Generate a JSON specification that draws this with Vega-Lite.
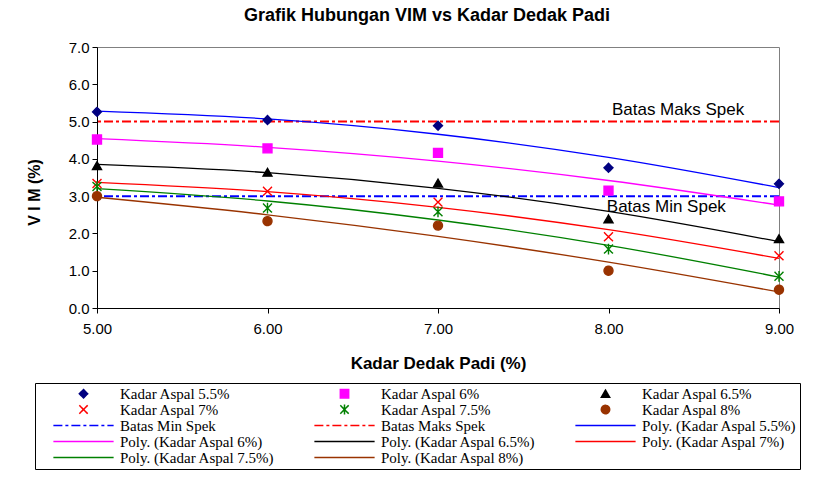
{
  "$schema": "https://vega.github.io/schema/vega-lite/v6.json",
  "width": 682,
  "height": 261,
  "autosize": {"type": "none"},
  "padding": {"left": 97, "top": 47, "right": 41, "bottom": 172},
  "background": "white",
  "title": {
    "text": "Grafik Hubungan VIM vs Kadar Dedak Padi",
    "font": "Liberation Sans",
    "fontSize": 18,
    "fontWeight": "bold",
    "color": "black",
    "anchor": "middle",
    "dx": -11,
    "offset": 15
  },
  "datasets": {
    "points": [
      {"series": "Kadar Aspal 5.5%", "dedak": 5, "vim": 5.26},
      {"series": "Kadar Aspal 5.5%", "dedak": 6, "vim": 5.04},
      {"series": "Kadar Aspal 5.5%", "dedak": 7, "vim": 4.89},
      {"series": "Kadar Aspal 5.5%", "dedak": 8, "vim": 3.76},
      {"series": "Kadar Aspal 5.5%", "dedak": 9, "vim": 3.33},
      {"series": "Kadar Aspal 6%", "dedak": 5, "vim": 4.52},
      {"series": "Kadar Aspal 6%", "dedak": 6, "vim": 4.28},
      {"series": "Kadar Aspal 6%", "dedak": 7, "vim": 4.16},
      {"series": "Kadar Aspal 6%", "dedak": 8, "vim": 3.15},
      {"series": "Kadar Aspal 6%", "dedak": 9, "vim": 2.86},
      {"series": "Kadar Aspal 6.5%", "dedak": 5, "vim": 3.82},
      {"series": "Kadar Aspal 6.5%", "dedak": 6, "vim": 3.64},
      {"series": "Kadar Aspal 6.5%", "dedak": 7, "vim": 3.35},
      {"series": "Kadar Aspal 6.5%", "dedak": 8, "vim": 2.39},
      {"series": "Kadar Aspal 6.5%", "dedak": 9, "vim": 1.86},
      {"series": "Kadar Aspal 7%", "dedak": 5, "vim": 3.34},
      {"series": "Kadar Aspal 7%", "dedak": 6, "vim": 3.13},
      {"series": "Kadar Aspal 7%", "dedak": 7, "vim": 2.84},
      {"series": "Kadar Aspal 7%", "dedak": 8, "vim": 1.91},
      {"series": "Kadar Aspal 7%", "dedak": 9, "vim": 1.40},
      {"series": "Kadar Aspal 7.5%", "dedak": 5, "vim": 3.26},
      {"series": "Kadar Aspal 7.5%", "dedak": 6, "vim": 2.68},
      {"series": "Kadar Aspal 7.5%", "dedak": 7, "vim": 2.58},
      {"series": "Kadar Aspal 7.5%", "dedak": 8, "vim": 1.58},
      {"series": "Kadar Aspal 7.5%", "dedak": 9, "vim": 0.85},
      {"series": "Kadar Aspal 8%", "dedak": 5, "vim": 3.00},
      {"series": "Kadar Aspal 8%", "dedak": 6, "vim": 2.33},
      {"series": "Kadar Aspal 8%", "dedak": 7, "vim": 2.21},
      {"series": "Kadar Aspal 8%", "dedak": 8, "vim": 1.00},
      {"series": "Kadar Aspal 8%", "dedak": 9, "vim": 0.49}
    ],
    "trend": [
      {"series": "Poly. (Kadar Aspal 5.5%)", "dedak": 5, "vim": 5.28},
      {"series": "Poly. (Kadar Aspal 5.5%)", "dedak": 6, "vim": 5.07},
      {"series": "Poly. (Kadar Aspal 5.5%)", "dedak": 7, "vim": 4.66},
      {"series": "Poly. (Kadar Aspal 5.5%)", "dedak": 8, "vim": 4.04},
      {"series": "Poly. (Kadar Aspal 5.5%)", "dedak": 9, "vim": 3.23},
      {"series": "Poly. (Kadar Aspal 6%)", "dedak": 5, "vim": 4.54},
      {"series": "Poly. (Kadar Aspal 6%)", "dedak": 6, "vim": 4.31},
      {"series": "Poly. (Kadar Aspal 6%)", "dedak": 7, "vim": 3.94},
      {"series": "Poly. (Kadar Aspal 6%)", "dedak": 8, "vim": 3.42},
      {"series": "Poly. (Kadar Aspal 6%)", "dedak": 9, "vim": 2.76},
      {"series": "Poly. (Kadar Aspal 6.5%)", "dedak": 5, "vim": 3.85},
      {"series": "Poly. (Kadar Aspal 6.5%)", "dedak": 6, "vim": 3.63},
      {"series": "Poly. (Kadar Aspal 6.5%)", "dedak": 7, "vim": 3.21},
      {"series": "Poly. (Kadar Aspal 6.5%)", "dedak": 8, "vim": 2.59},
      {"series": "Poly. (Kadar Aspal 6.5%)", "dedak": 9, "vim": 1.78},
      {"series": "Poly. (Kadar Aspal 7%)", "dedak": 5, "vim": 3.37},
      {"series": "Poly. (Kadar Aspal 7%)", "dedak": 6, "vim": 3.12},
      {"series": "Poly. (Kadar Aspal 7%)", "dedak": 7, "vim": 2.70},
      {"series": "Poly. (Kadar Aspal 7%)", "dedak": 8, "vim": 2.10},
      {"series": "Poly. (Kadar Aspal 7%)", "dedak": 9, "vim": 1.33},
      {"series": "Poly. (Kadar Aspal 7.5%)", "dedak": 5, "vim": 3.20},
      {"series": "Poly. (Kadar Aspal 7.5%)", "dedak": 6, "vim": 2.87},
      {"series": "Poly. (Kadar Aspal 7.5%)", "dedak": 7, "vim": 2.36},
      {"series": "Poly. (Kadar Aspal 7.5%)", "dedak": 8, "vim": 1.68},
      {"series": "Poly. (Kadar Aspal 7.5%)", "dedak": 9, "vim": 0.83},
      {"series": "Poly. (Kadar Aspal 8%)", "dedak": 5, "vim": 2.97},
      {"series": "Poly. (Kadar Aspal 8%)", "dedak": 6, "vim": 2.50},
      {"series": "Poly. (Kadar Aspal 8%)", "dedak": 7, "vim": 1.92},
      {"series": "Poly. (Kadar Aspal 8%)", "dedak": 8, "vim": 1.23},
      {"series": "Poly. (Kadar Aspal 8%)", "dedak": 9, "vim": 0.43}
    ],
    "batas": [
      {"series": "Batas Maks Spek", "vim": 5.0},
      {"series": "Batas Min Spek", "vim": 3.0}
    ],
    "notes": [
      {"label": "Batas Maks Spek", "dedak": 8.02, "vim": 5.31},
      {"label": "Batas Min Spek", "dedak": 7.99, "vim": 2.71}
    ]
  },
  "encoding": {
    "y": {
      "field": "vim",
      "type": "quantitative",
      "scale": {"domain": [0, 7], "nice": false},
      "axis": {
        "values": [0, 1, 2, 3, 4, 5, 6, 7],
        "format": ".1f",
        "title": "V I M (%)",
        "titleFontSize": 16,
        "labelPadding": 3,
        "labelFlush": false,
        "labelOverlap": false,
        "titlePadding": 26,
        "titleY": 145
      }
    }
  },
  "layer": [
    {
      "data": {"name": "batas"},
      "mark": {"type": "rule", "strokeWidth": 2},
      "encoding": {
        "color": {
          "field": "series",
          "type": "nominal",
          "scale": {
            "domain": ["Kadar Aspal 5.5%", "Kadar Aspal 6%", "Kadar Aspal 6.5%", "Kadar Aspal 7%", "Kadar Aspal 7.5%", "Kadar Aspal 8%", "Batas Min Spek", "Batas Maks Spek", "Poly. (Kadar Aspal 5.5%)", "Poly. (Kadar Aspal 6%)", "Poly. (Kadar Aspal 6.5%)", "Poly. (Kadar Aspal 7%)", "Poly. (Kadar Aspal 7.5%)", "Poly. (Kadar Aspal 8%)"],
            "range": ["#000080", "#FF00FF", "#000000", "#FF0000", "#008000", "#993300", "#0000FF", "#FF0000", "#0000FF", "#FF00FF", "#000000", "#FF0000", "#008000", "#993300"]
          },
          "legend": {
            "title": null,
            "orient": "none",
            "legendX": -62,
            "legendY": 336,
            "direction": "horizontal",
            "columns": 3,
            "gridAlign": "all",
            "symbolSize": 70,
            "symbolStrokeWidth": 1.5,
            "symbolOffset": 38,
            "labelOffset": 29,
            "labelFont": "Liberation Serif",
            "labelFontSize": 15,
            "labelColor": "black",
            "labelLimit": 300,
            "columnPadding": 24,
            "rowPadding": -3,
            "padding": 3,
            "strokeColor": "black",
            "fillColor": "white"
          }
        },
        "strokeDash": {
          "field": "series",
          "type": "nominal",
          "scale": {
            "domain": ["Kadar Aspal 5.5%", "Kadar Aspal 6%", "Kadar Aspal 6.5%", "Kadar Aspal 7%", "Kadar Aspal 7.5%", "Kadar Aspal 8%", "Batas Min Spek", "Batas Maks Spek", "Poly. (Kadar Aspal 5.5%)", "Poly. (Kadar Aspal 6%)", "Poly. (Kadar Aspal 6.5%)", "Poly. (Kadar Aspal 7%)", "Poly. (Kadar Aspal 7.5%)", "Poly. (Kadar Aspal 8%)"],
            "range": [[1, 0], [1, 0], [1, 0], [1, 0], [1, 0], [1, 0], [9, 3, 3, 3], [9, 3, 3, 3], [1, 0], [1, 0], [1, 0], [1, 0], [1, 0], [1, 0]]
          }
        }
      }
    },
    {
      "data": {"name": "trend"},
      "mark": {"type": "line", "interpolate": "monotone", "strokeWidth": 1.3},
      "encoding": {
        "x": {
          "field": "dedak",
          "type": "quantitative",
          "scale": {"domain": [5, 9], "nice": false, "zero": false},
          "axis": {
            "values": [5, 6, 7, 8, 9],
            "format": ".2f",
            "title": "Kadar Dedak Padi (%)",
            "labelPadding": 8,
            "labelFlush": false,
            "labelOverlap": false,
            "titlePadding": 19
          }
        },
        "color": {"field": "series", "type": "nominal"}
      }
    },
    {
      "data": {"name": "points"},
      "mark": {"type": "point", "filled": true, "size": 80, "strokeWidth": 1.4, "opacity": 1},
      "encoding": {
        "x": {"field": "dedak", "type": "quantitative"},
        "fill": {
          "field": "series",
          "type": "nominal",
          "scale": {
            "domain": ["Kadar Aspal 5.5%", "Kadar Aspal 6%", "Kadar Aspal 6.5%", "Kadar Aspal 7%", "Kadar Aspal 7.5%", "Kadar Aspal 8%", "Batas Min Spek", "Batas Maks Spek", "Poly. (Kadar Aspal 5.5%)", "Poly. (Kadar Aspal 6%)", "Poly. (Kadar Aspal 6.5%)", "Poly. (Kadar Aspal 7%)", "Poly. (Kadar Aspal 7.5%)", "Poly. (Kadar Aspal 8%)"],
            "range": ["#000080", "#FF00FF", "#000000", "#FF0000", "#008000", "#993300", "#0000FF", "#FF0000", "#0000FF", "#FF00FF", "#000000", "#FF0000", "#008000", "#993300"]
          }
        },
        "stroke": {
          "field": "series",
          "type": "nominal",
          "scale": {
            "domain": ["Kadar Aspal 5.5%", "Kadar Aspal 6%", "Kadar Aspal 6.5%", "Kadar Aspal 7%", "Kadar Aspal 7.5%", "Kadar Aspal 8%", "Batas Min Spek", "Batas Maks Spek", "Poly. (Kadar Aspal 5.5%)", "Poly. (Kadar Aspal 6%)", "Poly. (Kadar Aspal 6.5%)", "Poly. (Kadar Aspal 7%)", "Poly. (Kadar Aspal 7.5%)", "Poly. (Kadar Aspal 8%)"],
            "range": ["#000080", "#FF00FF", "#000000", "#FF0000", "#008000", "#993300", "#0000FF", "#FF0000", "#0000FF", "#FF00FF", "#000000", "#FF0000", "#008000", "#993300"]
          }
        },
        "strokeDash": {"field": "series", "type": "nominal"},
        "shape": {
          "field": "series",
          "type": "nominal",
          "scale": {
            "domain": ["Kadar Aspal 5.5%", "Kadar Aspal 6%", "Kadar Aspal 6.5%", "Kadar Aspal 7%", "Kadar Aspal 7.5%", "Kadar Aspal 8%", "Batas Min Spek", "Batas Maks Spek", "Poly. (Kadar Aspal 5.5%)", "Poly. (Kadar Aspal 6%)", "Poly. (Kadar Aspal 6.5%)", "Poly. (Kadar Aspal 7%)", "Poly. (Kadar Aspal 7.5%)", "Poly. (Kadar Aspal 8%)"],
            "range": ["diamond", "square", "triangle-up", "M-1,-1L1,1M-1,1L1,-1", "M-1,-1L1,1M-1,1L1,-1M0,-1.2L0,1.2", "circle", "M-7.2,0L7.2,0", "M-7.2,0L7.2,0", "M-7.2,0L7.2,0", "M-7.2,0L7.2,0", "M-7.2,0L7.2,0", "M-7.2,0L7.2,0", "M-7.2,0L7.2,0", "M-7.2,0L7.2,0"]
          }
        }
      }
    },
    {
      "data": {"name": "notes"},
      "mark": {"type": "text", "align": "left", "baseline": "middle", "font": "Liberation Sans", "fontSize": 17, "color": "black"},
      "encoding": {
        "x": {"field": "dedak", "type": "quantitative"},
        "text": {"field": "label", "type": "nominal"}
      }
    }
  ],
  "config": {
    "view": {"stroke": "#808080", "strokeWidth": 1},
    "axis": {
      "labelFont": "Liberation Sans",
      "labelFontSize": 15,
      "labelColor": "black",
      "titleFont": "Liberation Sans",
      "titleFontSize": 17,
      "titleFontWeight": "bold",
      "titleColor": "black",
      "domainColor": "black",
      "tickColor": "black",
      "tickSize": 5,
      "grid": false
    }
  }
}
